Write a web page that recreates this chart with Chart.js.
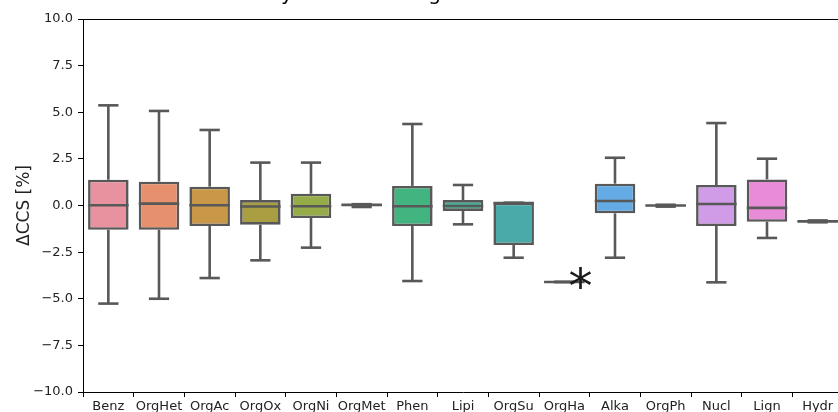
<!DOCTYPE html>
<html>
<head>
<meta charset="utf-8">
<script src="https://cdn.jsdelivr.net/npm/chart.js@4.4.1/dist/chart.umd.min.js"></script>
<style>
  body { margin: 0; background: #fff; }
  #wrap { position: relative; width: 838px; height: 412px; overflow: hidden; }
  #box { position: absolute; left: 0; top: -17px; }
</style>
</head>
<body>
<div id="wrap"><canvas id="box" width="860" height="430"></canvas></div>
<script>
// compound classes and the box statistics (ΔCCS in %)
var labels = ['Benz', 'OrgHet', 'OrgAc', 'OrgOx', 'OrgNi', 'OrgMet', 'Phen', 'Lipi', 'OrgSu', 'OrgHa', 'Alka', 'OrgPh', 'Nucl', 'Lign', 'Hydr'];
var whiskerLow  = [-5.26, -5.00, -3.89, -2.94, -2.26, -0.08, -4.05, -1.01, -2.80, -4.10, -2.80, -0.06, -4.12, -1.74, -0.90];
var q1          = [-1.30, -1.30, -1.10, -1.03, -0.67, -0.06, -1.10, -0.29, -2.12, -4.10, -0.42, -0.04, -1.10, -0.87, -0.88];
var median      = [ 0.01,  0.10,  0.01, -0.05, -0.04,  0.04, -0.04, -0.03,  0.13, -4.10,  0.24,  0.00,  0.08, -0.13, -0.85];
var q3          = [ 1.38,  1.28,  1.01,  0.29,  0.63,  0.06,  1.05,  0.29,  0.15, -4.10,  1.17,  0.03,  1.10,  1.40, -0.82];
var whiskerHigh = [ 5.37,  5.07,  4.05,  2.30,  2.30,  0.07,  4.37,  1.10,  0.15, -4.10,  2.56,  0.04,  4.42,  2.51, -0.80];
var yTicks = [-10, -7.5, -5, -2.5, 0, 2.5, 5, 7.5, 10];
var marks = [{ label: 'OrgHa', value: -4.10, text: '*' }];

var colors = ['#e892a0', '#e6906e', '#c89848', '#aa9e42', '#96ac48', '#62b25a', '#42b480', '#44b096',
              '#4aaaaa', '#4ea8c4', '#64aae4', '#96a0e8', '#d09ce8', '#e88cd8', '#e88cb4'];
var lineColor = '#585858';

Chart.defaults.font.family = "'DejaVu Sans', sans-serif";
Chart.defaults.color = '#222';

// whiskers, caps, medians, the asterisk and the top spine
var boxExtras = {
    id: 'boxExtras',
    afterDatasetsDraw: function(chart) {
        var ctx = chart.ctx, x = chart.scales.x, y = chart.scales.y, area = chart.chartArea;
        var step = x.width / labels.length;
        var bw = step * 0.8;
        ctx.save();
        ctx.strokeStyle = lineColor;
        ctx.lineWidth = 2.6;
        function seg(x1, y1, x2, y2) {
            ctx.beginPath(); ctx.moveTo(x1, y1); ctx.lineTo(x2, y2); ctx.stroke();
        }
        labels.forEach(function(l, i) {
            var cx = x.getPixelForValue(i);
            var yHi = y.getPixelForValue(whiskerHigh[i]), yLo = y.getPixelForValue(whiskerLow[i]);
            seg(cx, y.getPixelForValue(q3[i]), cx, yHi);
            seg(cx, y.getPixelForValue(q1[i]), cx, yLo);
            seg(cx - bw / 4, yHi, cx + bw / 4, yHi);
            seg(cx - bw / 4, yLo, cx + bw / 4, yLo);
            var ym = y.getPixelForValue(median[i]);
            seg(cx - bw / 2, ym, cx + bw / 2, ym);
        });
        ctx.fillStyle = '#1a1a1a';
        ctx.font = "48px 'DejaVu Sans'";
        ctx.textAlign = 'center';
        ctx.textBaseline = 'alphabetic';
        marks.forEach(function(m) {
            var i = labels.indexOf(m.label);
            var mx = x.getPixelForValue(i) + step * 0.32;
            var met = ctx.measureText(m.text);
            var mid = (met.actualBoundingBoxAscent - met.actualBoundingBoxDescent) / 2;
            ctx.fillText(m.text, mx, y.getPixelForValue(m.value) - 4 + mid);
        });
        ctx.strokeStyle = '#000';
        ctx.lineWidth = 1;
        seg(area.left, area.top + 0.5, area.right, area.top + 0.5);
        ctx.restore();
    }
};

new Chart(document.getElementById('box'), {
    type: 'bar',
    data: {
        labels: labels,
        datasets: [{
            data: q1.map(function(v, i) { return [v, q3[i]]; }),
            backgroundColor: colors,
            borderColor: lineColor,
            borderWidth: 2.6,
            borderSkipped: false,
            barPercentage: 0.8,
            categoryPercentage: 1
        }]
    },
    options: {
        responsive: false,
        animation: false,
        events: [],
        layout: { padding: { left: 0, right: 17, top: 0, bottom: 0 } },
        plugins: {
            legend: { display: false },
            tooltip: { enabled: false },
            title: {
                display: true,
                text: 'ΔCCS % deviation by structural origin',
                fullSize: false,
                align: 'start',
                color: '#000',
                font: { size: 20, weight: 'normal' },
                padding: { top: 0, bottom: 12 }
            }
        },
        scales: {
            x: {
                afterFit: function(s) { s.height = 21; },
                grid: { drawOnChartArea: false, color: '#000', tickColor: '#000', tickLength: 5 },
                border: { color: '#000', width: 1 },
                ticks: { color: '#222', font: { size: 13 }, padding: 2, autoSkip: false, maxRotation: 0 }
            },
            y: {
                min: -10, max: 10,
                afterFit: function(s) { s.width = 83; },
                afterBuildTicks: function(s) { s.ticks = yTicks.map(function(v) { return { value: v }; }); },
                grid: { drawOnChartArea: false, color: '#000', tickColor: '#000', tickLength: 5 },
                border: { color: '#000', width: 1 },
                ticks: {
                    color: '#222', font: { size: 13 }, padding: 5,
                    callback: function(v) { return (v < 0 ? '\u2212' : '') + Math.abs(v).toFixed(1); }
                },
                title: { display: true, text: 'ΔCCS [%]', color: '#222', font: { size: 17 }, padding: { top: 14, bottom: 0 } }
            }
        }
    },
    plugins: [boxExtras]
});
</script>
</body>
</html>
